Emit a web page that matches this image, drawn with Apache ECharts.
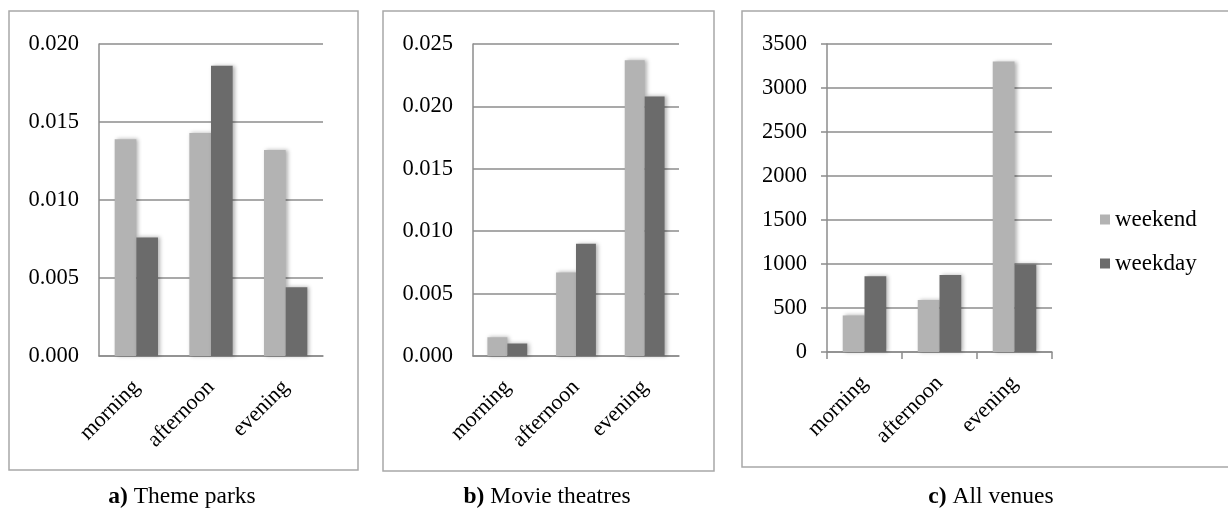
<!DOCTYPE html>
<html>
<head>
<meta charset="utf-8">
<script src="https://cdn.jsdelivr.net/npm/echarts@6/dist/echarts.min.js"></script>
<style>
html,body{margin:0;padding:0;background:#fff;}
#c{width:1228px;height:512px;}
</style>
</head>
<body>
<div id="c"></div>
<script>
const categories = ['morning', 'afternoon', 'evening'];
const seriesNames = ['weekend', 'weekday'];

const themeWeekend = [0.0139, 0.0143, 0.0132];
const themeWeekday = [0.0076, 0.0186, 0.0044];

const movieWeekend = [0.0015, 0.0067, 0.0237];
const movieWeekday = [0.0010, 0.0090, 0.0208];

const allWeekend = [415, 590, 3300];
const allWeekday = [860, 875, 995];

const panelTitles = [
  {bold: 'a)', text: ' Theme parks'},
  {bold: 'b)', text: ' Movie theatres'},
  {bold: 'c)', text: ' All venues'}
];

const FONT = 'Liberation Serif';
const LIGHT = '#b3b3b3';
const DARK = '#6b6b6b';
const GRID_COLOR = '#8c8c8c';
const BORDER = '#a8a8a8';

const chart = echarts.init(document.getElementById('c'), null, {renderer: 'canvas'});

const grids = [
  {left: 99, top: 44, width: 224, height: 312},
  {left: 473, top: 44, width: 206, height: 312},
  {left: 827, top: 44, width: 225, height: 308}
];

function xAxis(i, ticks) {
  return {
    type: 'category', gridIndex: i, data: categories,
    axisLine: {show: true, lineStyle: {color: GRID_COLOR, width: 1.5}},
    axisTick: {show: ticks, length: 7, lineStyle: {color: GRID_COLOR, width: 1.5}},
    axisLabel: {rotate: 45, margin: 28, fontFamily: FONT, fontSize: 22, color: '#000'}
  };
}
function yAxis(i, max, interval, dec, ticks) {
  return {
    type: 'value', gridIndex: i, min: 0, max: max, interval: interval,
    axisLine: {show: true, lineStyle: {color: GRID_COLOR, width: 1.5}},
    axisTick: {show: ticks, length: 6, lineStyle: {color: GRID_COLOR, width: 1.5}},
    splitLine: {show: true, lineStyle: {color: GRID_COLOR, width: 1.5}},
    axisLabel: {margin: 20, fontFamily: FONT, fontSize: 22.5, color: '#000',
      formatter: v => v.toFixed(dec)}
  };
}
function bars(i, name, data, color) {
  return {
    type: 'bar', name: name, xAxisIndex: i, yAxisIndex: i, data: data,
    barGap: '0%', barCategoryGap: '42%',
    itemStyle: {color: color, shadowBlur: 4, shadowOffsetX: 2, shadowOffsetY: 0, shadowColor: 'rgba(0,0,0,0.3)'}
  };
}

const boxes = [
  {x: 9, y: 11, w: 349, h: 459},
  {x: 383, y: 11, w: 331, h: 460},
  {x: 742, y: 11, w: 500, h: 456}
];
const captionX = [182, 547, 991];

const graphic = [];
boxes.forEach(b => graphic.push({
  type: 'rect', shape: {x: b.x, y: b.y, width: b.w, height: b.h},
  style: {fill: null, stroke: BORDER, lineWidth: 1.5}, silent: true, z: -1
}));
panelTitles.forEach((t, i) => graphic.push({
  type: 'text', x: captionX[i], y: 497,
  style: {
    text: '{b|' + t.bold + '}{r|' + t.text + '}',
    align: 'center', verticalAlign: 'middle',
    rich: {
      b: {fontFamily: FONT, fontWeight: 'bold', fontSize: 23.5, fill: '#000'},
      r: {fontFamily: FONT, fontSize: 23.5, fill: '#000'}
    }
  }
}));

chart.setOption({
  animation: false,
  backgroundColor: '#fff',
  grid: grids,
  xAxis: [xAxis(0, false), xAxis(1, false), xAxis(2, true)],
  yAxis: [yAxis(0, 0.020, 0.005, 3, false), yAxis(1, 0.025, 0.005, 3, false), yAxis(2, 3500, 500, 0, true)],
  legend: {
    orient: 'vertical', left: 1100, top: 208, padding: 0, itemWidth: 10, itemHeight: 10, itemGap: 21,
    icon: 'rect', data: seriesNames,
    textStyle: {fontFamily: FONT, fontSize: 23, color: '#000', padding: [0, 0, 0, 0]}
  },
  series: [
    bars(0, seriesNames[0], themeWeekend, LIGHT),
    bars(0, seriesNames[1], themeWeekday, DARK),
    bars(1, seriesNames[0], movieWeekend, LIGHT),
    bars(1, seriesNames[1], movieWeekday, DARK),
    bars(2, seriesNames[0], allWeekend, LIGHT),
    bars(2, seriesNames[1], allWeekday, DARK)
  ],
  graphic: graphic
});
</script>
</body>
</html>
